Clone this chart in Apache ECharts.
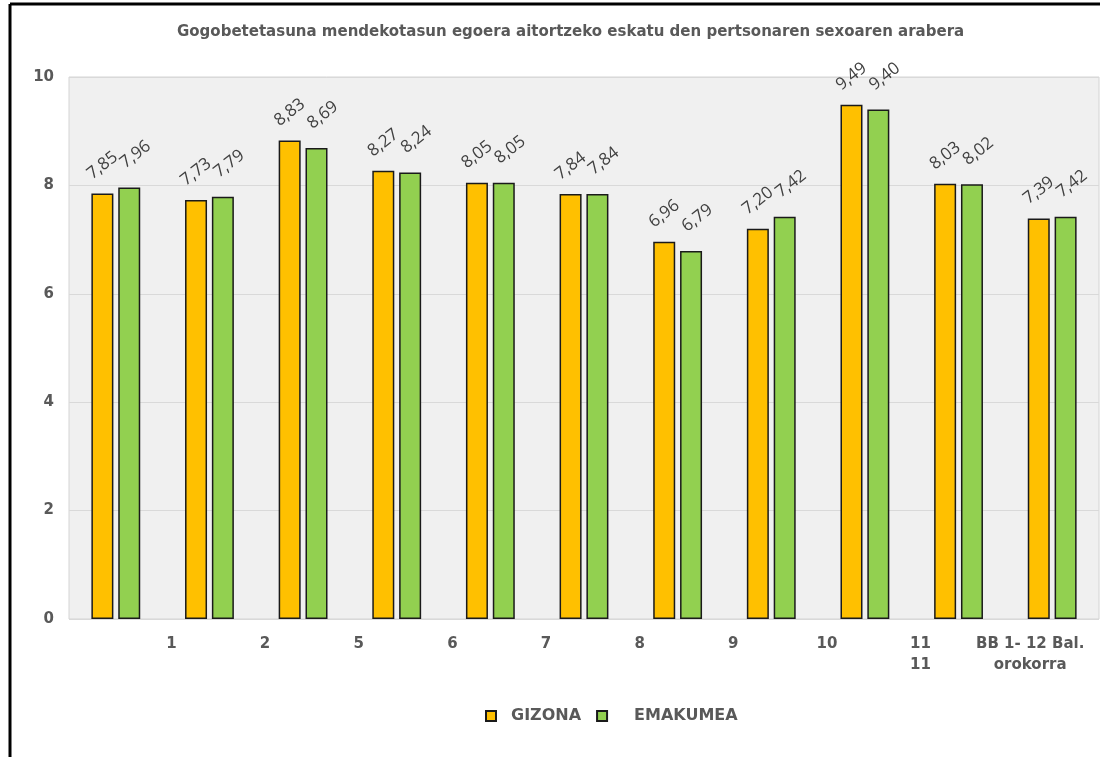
<!DOCTYPE html>
<html lang="eu">
<head>
    <meta charset="UTF-8">
    <title>gogobetetasuna_sexoa</title>
    <style type="text/css">
        html, body {
            margin: 0;
            padding: 0;
            background: #fff;
        }
        #box {
            width: 1109px;
            height: 757px;
        }
    </style>
</head>
<body>
<div id="box"></div>
<script type="text/javascript" src="https://cdn.jsdelivr.net/npm/echarts@6/dist/echarts.min.js"></script>
<script type="text/javascript">
    // datuak
    const categories = ['', '1', '2', '5', '6', '7', '8', '9', '10', '11\n11', 'BB 1- 12 Bal.\norokorra'];
    const gizona = [7.85, 7.73, 8.83, 8.27, 8.05, 7.84, 6.96, 7.20, 9.49, 8.03, 7.39];
    const emakumea = [7.96, 7.79, 8.69, 8.24, 8.05, 7.84, 6.79, 7.42, 9.40, 8.02, 7.42];
    const seriesNames = ['GIZONA', 'EMAKUMEA'];
    const yTicks = [0, 2, 4, 6, 8, 10];

    const boldFont = 'DejaVu Sans';
    const grey = '#595959';

    function fmt(p) {
        return p.value.toFixed(2).replace('.', ',');
    }

    function barLabel(dx) {
        return {
            show: true,
            position: 'top',
            rotate: 38,
            align: 'center',
            verticalAlign: 'middle',
            distance: 28,
            offset: [dx, 0],
            formatter: fmt,
            color: '#404040',
            fontFamily: 'Open Sans',
            fontSize: 17
        };
    }

    let myChart = echarts.init(document.getElementById('box'));
    let option = {
        backgroundColor: '#fff',
        animation: false,
        title: {
            text: 'Gogobetetasuna mendekotasun egoera aitortzeko eskatu den pertsonaren sexoaren arabera',
            left: 172,
            top: 20,
            textStyle: {
                color: grey,
                fontFamily: boldFont,
                fontWeight: 'bold',
                fontSize: 15
            }
        },
        legend: {
            top: 703,
            left: 480,
            itemWidth: 10,
            itemHeight: 10,
            itemGap: 15,
            icon: 'rect',
            data: [
                {name: seriesNames[0]},
                {name: seriesNames[1], textStyle: {padding: [0, 0, 0, 22]}}
            ],
            textStyle: {
                color: grey,
                fontFamily: boldFont,
                fontWeight: 'bold',
                fontSize: 16,
                padding: [0, 0, 0, 10]
            }
        },
        grid: {
            left: 69,
            right: 10,
            top: 77,
            bottom: 138,
            outerBoundsMode: 'none',
            show: true,
            backgroundColor: '#f0f0f0',
            borderColor: '#d4d4d4',
            borderWidth: 1
        },
        xAxis: {
            type: 'category',
            data: categories.map(function (c, i) {
                if (i === categories.length - 1) {
                    return {value: c, textStyle: {padding: [0, 44, 0, 0]}};
                }
                return c;
            }),
            axisLine: {show: false},
            axisTick: {show: false},
            axisLabel: {
                interval: 0,
                margin: 15,
                color: grey,
                fontFamily: boldFont,
                fontWeight: 'bold',
                fontSize: 15,
                lineHeight: 21,
                padding: [0, 76, 0, 0]
            }
        },
        yAxis: {
            type: 'value',
            min: yTicks[0],
            max: yTicks[yTicks.length - 1],
            interval: 2,
            axisLine: {show: false},
            axisTick: {show: false},
            axisLabel: {
                margin: 15,
                color: grey,
                fontFamily: boldFont,
                fontWeight: 'bold',
                fontSize: 15
            },
            splitLine: {
                lineStyle: {color: '#d9d9d9', width: 1}
            }
        },
        graphic: [
            {
                type: 'line',
                shape: {x1: 10, y1: 4, x2: 1100, y2: 4},
                style: {stroke: '#000', lineWidth: 3}
            },
            {
                type: 'line',
                shape: {x1: 10, y1: 4, x2: 10, y2: 757},
                style: {stroke: '#000', lineWidth: 3}
            }
        ],
        series: [
            {
                name: seriesNames[0],
                type: 'bar',
                data: gizona,
                barWidth: 22,
                barGap: '22%',
                itemStyle: {color: '#ffc000', borderColor: '#1a1a1a', borderWidth: 1.5},
                label: barLabel(0)
            },
            {
                name: seriesNames[1],
                type: 'bar',
                data: emakumea,
                barWidth: 22,
                barGap: '22%',
                itemStyle: {color: '#92d050', borderColor: '#1a1a1a', borderWidth: 1.5},
                label: barLabel(8)
            }
        ]
    };
    myChart.setOption(option);
</script>
</body>
</html>
